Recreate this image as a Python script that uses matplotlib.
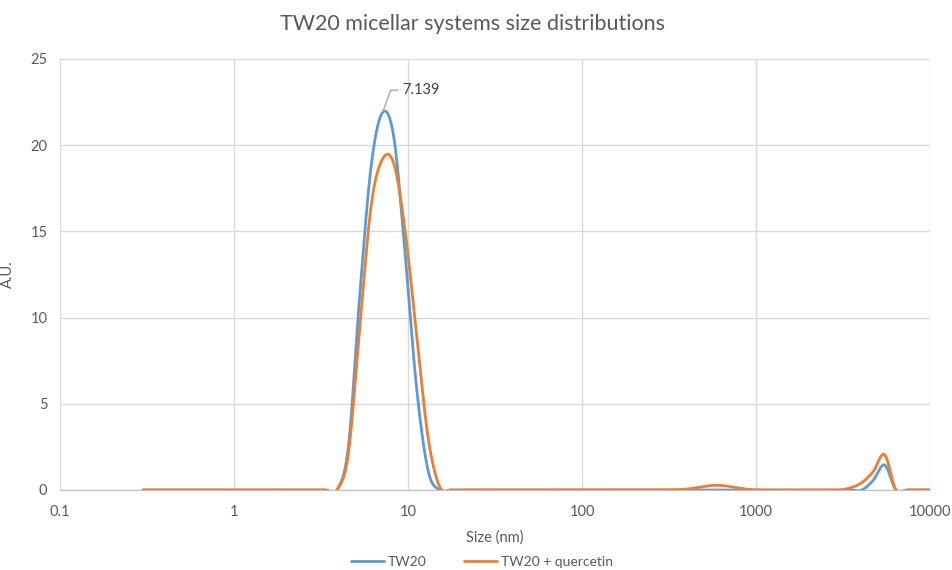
import numpy as np
import matplotlib.pyplot as plt
from matplotlib.ticker import FixedLocator, FixedFormatter, NullLocator

plt.rcParams['font.family'] = ['Lato', 'DejaVu Sans']

# size bins (nm), log spaced 0.3 .. 10000
sizes = [0.3, 0.3489, 0.4057, 0.4718, 0.5487, 0.6381, 0.7421, 0.8630, 1.004, 1.167,
         1.357, 1.578, 1.836, 2.135, 2.482, 2.887, 3.357, 3.904, 4.540, 5.280,
         6.140, 7.139, 8.304, 9.657, 11.23, 13.06, 15.19, 17.66, 20.54, 23.89,
         27.78, 32.30, 37.57, 43.69, 50.81, 59.08, 68.71, 79.90, 92.92, 108.1,
         125.7, 146.1, 170.0, 197.6, 229.8, 267.3, 310.8, 361.5, 420.4, 488.9,
         568.5, 661.2, 768.9, 894.2, 1040, 1209, 1406, 1635, 1902, 2212,
         2572, 2991, 3478, 4045, 4704, 5471, 6362, 7398, 8604, 10000]

tw20 = [0] * 17 + [0, 2.5, 11.3, 18.8, 21.9, 20.4, 13.5, 5.8, 1.1, 0] \
    + [0] * 35 + [0, 0, 0.55, 1.45, 0, 0, 0, 0]

tw20_querc = [0] * 17 + [0, 2.1, 9.4, 16.5, 19.2, 18.9, 14.9, 8.9, 3.0, 0.2] \
    + [0] * 20 + [0.02, 0.08, 0.18, 0.27, 0.24, 0.14, 0.04, 0] \
    + [0] * 6 + [0, 0.12, 0.42, 1.06, 2.05, 0, 0, 0, 0]

peak_label = "7.139"


def smooth(x, y, n=20):
    # excel style smoothed line: bezier through points, in log-x space
    lx = np.log10(x)
    y = np.asarray(y, dtype=float)
    px = np.concatenate([[lx[0]], lx, [lx[-1]]])
    py = np.concatenate([[y[0]], y, [y[-1]]])
    t = np.linspace(0, 1, n, endpoint=False)
    xs, ys = [], []
    for i in range(1, len(px) - 2):
        p0x, p1x, p2x, p3x = px[i-1:i+3]
        p0y, p1y, p2y, p3y = py[i-1:i+3]
        c1x = p1x + (p2x - p0x) / 6
        c2x = p2x - (p3x - p1x) / 6
        c1y = p1y + (p2y - p0y) / 6
        c2y = p2y - (p3y - p1y) / 6
        b0 = (1-t)**3; b1 = 3*(1-t)**2*t; b2 = 3*(1-t)*t**2; b3 = t**3
        xs.append(b0*p1x + b1*c1x + b2*c2x + b3*p2x)
        ys.append(b0*p1y + b1*c1y + b2*c2y + b3*p2y)
    xs.append([px[-2]]); ys.append([py[-2]])
    return 10**np.concatenate(xs), np.concatenate(ys)


fig = plt.figure(figsize=(9.52, 5.7), dpi=100)
ax = fig.add_axes([0.063, 0.1404, 0.914, 0.7561])

blue = '#5B9BD5'
orange = '#ED7D31'
sx, sy = smooth(sizes, tw20)
ax.plot(sx, sy, color=blue, lw=2, label='TW20', solid_capstyle='round')
sx, sy = smooth(sizes, tw20_querc)
ax.plot(sx, sy, color=orange, lw=2, label='TW20 + quercetin', solid_capstyle='round')

ax.set_xscale('log')
ax.set_xlim(0.1, 10000)
ax.set_ylim(0, 25)
xt = [0.1, 1, 10, 100, 1000, 10000]
ax.xaxis.set_major_locator(FixedLocator(xt))
ax.xaxis.set_major_formatter(FixedFormatter(['0.1', '1', '10', '100', '1000', '10000']))
ax.xaxis.set_minor_locator(NullLocator())
ax.set_yticks([0, 5, 10, 15, 20, 25])

ax.grid(True, color='#d9d9d9', lw=1)
ax.set_axisbelow(True)
for s in ['top', 'right', 'left']:
    ax.spines[s].set_visible(False)
ax.spines['bottom'].set_color('#bfbfbf')
ax.tick_params(length=0, labelsize=10.5, colors='#595959')
ax.tick_params(axis='x', pad=11)
ax.tick_params(axis='y', pad=9)

ax.set_xlabel('Size (nm)', fontsize=10.5, color='#595959', labelpad=8)
ax.set_ylabel('A.U.', fontsize=10.5, color='#595959')
ax.yaxis.set_label_coords(-0.052, 0.5)
ax.set_title('TW20 micellar systems size distributions', fontsize=15.5,
             color='#595959', pad=21, x=0.4736)

# data label for the TW20 peak
pk = tw20.index(max(tw20))
ax.annotate(peak_label, xy=(sizes[pk], tw20[pk]), xytext=(14, 16),
            textcoords='offset points', fontsize=10.5, color='#404040',
            va='center', ha='left',
            arrowprops=dict(arrowstyle='-', color='#a6a6a6', lw=1,
                            connectionstyle='angle,angleA=0,angleB=70,rad=0',
                            shrinkA=1, shrinkB=1))

fig.legend(loc='lower center', ncol=2, frameon=False, fontsize=10,
           bbox_to_anchor=(0.506, -0.019), handlelength=2.4, columnspacing=2.7,
           handletextpad=0.25, labelcolor='#595959')

fig.savefig('out.png', dpi=100)
